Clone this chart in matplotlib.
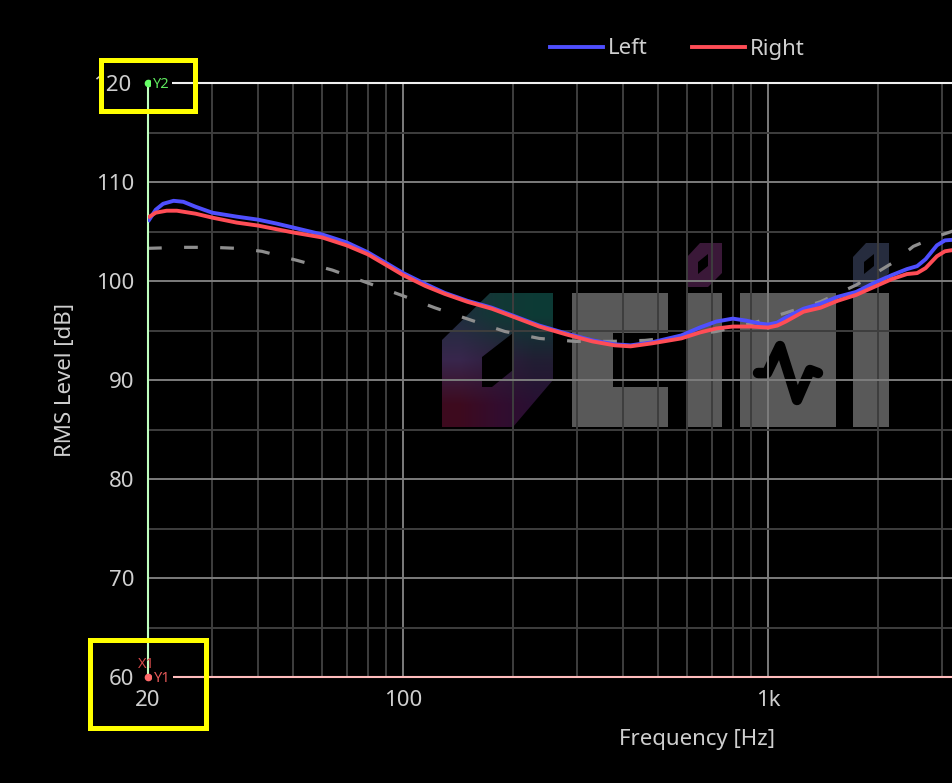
import numpy as np
import matplotlib
matplotlib.use("Agg")
from matplotlib import pyplot as plt
from matplotlib.patches import Rectangle, Polygon
from matplotlib.lines import Line2D
from matplotlib.ticker import FixedLocator, FixedFormatter, MultipleLocator, NullFormatter

plt.rcParams['font.family'] = ['Noto Sans', 'DejaVu Sans']

freqs_left = [20, 21, 22, 23.5, 25, 27, 30, 35, 40, 45, 50, 60, 70, 80, 90, 100,
              115, 130, 150, 175, 200, 236, 280, 330, 380, 420, 480, 578, 650,
              720, 800, 870, 950, 1000, 1060, 1117, 1250, 1392, 1550, 1744, 1950,
              2185, 2400, 2560, 2700, 2900, 3050, 3300]
level_left = [106.0, 107.2, 107.8, 108.1, 108.0, 107.5, 106.9, 106.5, 106.2, 105.8,
              105.4, 104.7, 103.9, 102.9, 101.8, 100.8, 99.7, 98.8, 98.0, 97.3,
              96.5, 95.5, 94.7, 94.0, 93.6, 93.5, 93.8, 94.5, 95.3, 95.9, 96.2,
              96.0, 95.7, 95.6, 95.8, 96.3, 97.2, 97.7, 98.4, 98.9, 99.8, 100.6,
              101.2, 101.5, 102.2, 103.6, 104.1, 104.2]

freqs_right = [20, 21, 22.5, 24, 27, 30, 35, 40, 50, 60, 70, 80, 90, 100, 115, 130,
               150, 175, 200, 236, 280, 330, 380, 420, 480, 578, 650, 720, 800, 900,
               1000, 1060, 1117, 1250, 1392, 1550, 1744, 1950, 2185, 2400, 2560,
               2700, 2900, 3050, 3300]
level_right = [106.4, 106.9, 107.1, 107.1, 106.8, 106.4, 105.9, 105.6, 104.9, 104.4,
               103.6, 102.7, 101.6, 100.6, 99.5, 98.7, 97.9, 97.2, 96.4, 95.4, 94.6,
               93.9, 93.5, 93.4, 93.7, 94.2, 94.8, 95.2, 95.4, 95.4, 95.3, 95.5, 95.9,
               96.9, 97.3, 98.0, 98.6, 99.4, 100.2, 100.7, 100.8, 101.3, 102.5,
               103.0, 103.2]

freqs_target = [20, 25, 30, 35, 41, 51, 64, 80, 100, 122, 152, 190, 236, 296, 370,
                460, 580, 720, 900, 1100, 1390, 1744, 2185, 2500, 2900, 3300]
level_target = [103.3, 103.4, 103.4, 103.3, 103.0, 102.1, 101.1, 99.8, 98.5, 97.3,
                96.1, 94.9, 94.2, 93.9, 93.9, 94.0, 94.4, 94.9, 95.7, 96.7, 97.9,
                99.6, 101.8, 103.5, 104.5, 105.2]

x_ticks = [20, 100, 1000]
x_tick_labels = ['20', '100', '1k']
y_ticks = [60, 70, 80, 90, 100, 110, 120]
y_tick_labels = ['60', '70', '80', '90', '100', '110', '']   # top one drawn under the highlight box
top_label = '120'

W, H = 952, 783
fig = plt.figure(figsize=(W / 100, H / 100), dpi=100, facecolor='black')


def px_axes(z):
    a = fig.add_axes([0, 0, 1, 1], zorder=z)
    a.set_xlim(0, W)
    a.set_ylim(H, 0)
    a.axis('off')
    a.patch.set_alpha(0)
    return a


# watermark underneath the plot
wm = px_axes(0)
grey = '#595959'
for x0, x1 in [(572, 668), (686, 722), (740, 836), (853, 889)]:
    wm.add_patch(Rectangle((x0, 293), x1 - x0, 134, color=grey, lw=0))
wm.add_patch(Rectangle((613, 333), 56, 54, color='black', lw=0))
wm.plot([758, 767, 780, 797, 810, 818], [373, 373, 346, 400, 370, 373],
        color='black', lw=7.5, solid_capstyle='round', solid_joinstyle='round')
wm.add_patch(Polygon([(687, 257), (700, 243), (722, 243), (722, 273), (708, 287), (687, 287)],
                     color='#3a1838', lw=0))
wm.add_patch(Polygon([(698, 262), (708, 254), (708, 266), (698, 274)], color='black', lw=0))
wm.add_patch(Polygon([(853, 257), (866, 243), (889, 243), (889, 273), (875, 287), (853, 287)],
                     color='#262c3e', lw=0))
wm.add_patch(Polygon([(864, 262), (874, 254), (874, 266), (864, 274)], color='black', lw=0))
logo = Polygon([(442, 340), (490, 293), (553, 293), (553, 380), (513, 427), (442, 427)],
               lw=0, facecolor='none')
wm.add_patch(logo)
grad = np.array([[[0.12, 0.18, 0.24], [0.07, 0.22, 0.21], [0.05, 0.23, 0.21]],
                 [[0.22, 0.15, 0.30], [0.18, 0.12, 0.24], [0.13, 0.12, 0.20]],
                 [[0.24, 0.04, 0.12], [0.20, 0.05, 0.18], [0.16, 0.06, 0.20]]])
img = wm.imshow(grad, extent=(442, 553, 427, 293), interpolation='bilinear', aspect='auto')
img.set_clip_path(logo)
wm.add_patch(Polygon([(482, 357), (513, 333), (513, 370), (492, 387), (482, 387)],
                     color='black', lw=0))
wm.set_xlim(0, W)
wm.set_ylim(H, 0)

# main plot, wider than the picture (it is cut at the right edge)
ax = fig.add_axes([148 / W, (H - 677) / H, 1095 / W, 594 / H], zorder=1)
ax.patch.set_alpha(0)
ax.set_xscale('log')
ax.set_xlim(20, 20000)
ax.set_ylim(60, 120)

ax.xaxis.set_major_locator(FixedLocator(x_ticks))
ax.xaxis.set_major_formatter(FixedFormatter(x_tick_labels))
ax.xaxis.set_minor_locator(FixedLocator([m * d for d in (10, 100, 1000) for m in range(2, 10)]))
ax.xaxis.set_minor_formatter(NullFormatter())
ax.yaxis.set_major_locator(FixedLocator(y_ticks))
ax.yaxis.set_major_formatter(FixedFormatter(y_tick_labels))
ax.yaxis.set_minor_locator(MultipleLocator(5))

ax.grid(which='major', color='#7c7c7c', lw=1.4)
ax.grid(which='minor', color='#3e3e3e', lw=1.4)
ax.set_axisbelow(True)

ax.tick_params(which='both', length=0, colors='#cfcfcf', labelsize=16)
ax.tick_params(axis='y', pad=10)
ax.tick_params(axis='x', pad=9)

ax.spines['top'].set_color('#f0f0f0')
ax.spines['bottom'].set_color('#ffbcbc')
ax.spines['left'].set_color('#bfffbf')
ax.spines['right'].set_visible(False)
for s in ('top', 'bottom', 'left'):
    ax.spines[s].set_linewidth(1.5)

ax.plot(freqs_target, level_target, color='#8e8e8e', lw=2.3, dashes=(4.3, 7.0), zorder=2)
ax.plot(freqs_left, level_left, color='#4f4fff', lw=2.8, zorder=3, solid_capstyle='butt')
ax.plot(freqs_right, level_right, color='#ff4d56', lw=2.8, zorder=4, solid_capstyle='butt')

handles = [Line2D([], [], color='#4f4fff', lw=2.8), Line2D([], [], color='#ff4d56', lw=2.8)]
leg = ax.legend(handles, ['Left', 'Right'], loc='center', ncol=2, frameon=False,
                bbox_to_anchor=(677 / W, 1 - 49 / H), bbox_transform=fig.transFigure,
                fontsize=16, handlelength=2.4, handletextpad=0.2, columnspacing=2.0)
for t in leg.get_texts():
    t.set_color('#cfcfcf')

fig.text(697 / W, 1 - 740 / H, 'Frequency [Hz]', color='#cfcfcf', fontsize=16,
         ha='center', va='center')
fig.text(65 / W, 1 - 380 / H, 'RMS Level [dB]', color='#cfcfcf', fontsize=16,
         ha='center', va='center', rotation=90)

# cursor markers and highlight boxes on top
ov = px_axes(5)
ov.text(131, 83, top_label, color='#cfcfcf', fontsize=16, ha='right', va='center_baseline',
        zorder=1)
box = dict(facecolor='black', edgecolor='none', pad=1.5)
ov.text(153, 84, 'Y2', color='#5ee85e', fontsize=10.5, ha='left', va='center', bbox=box)
ov.plot([148], [83], 'o', color='#66ff66', ms=4.5)
ov.text(154, 678, 'Y1', color='#e85a5a', fontsize=10.5, ha='left', va='center', bbox=box)
ov.text(146, 664, 'X1', color='#d04848', fontsize=10.5, ha='center', va='center')
ov.plot([148], [677], 'o', color='#ff6a6a', ms=4.5)
ov.add_patch(Rectangle((100.5, 59.5), 94, 51, fill=False, edgecolor='#ffff00', lw=3.6,
                       zorder=3))
ov.add_patch(Rectangle((89.5, 639.5), 116, 88, fill=False, edgecolor='#ffff00', lw=3.6,
                       zorder=3))

fig.savefig('out.png', dpi=100, facecolor='black')
